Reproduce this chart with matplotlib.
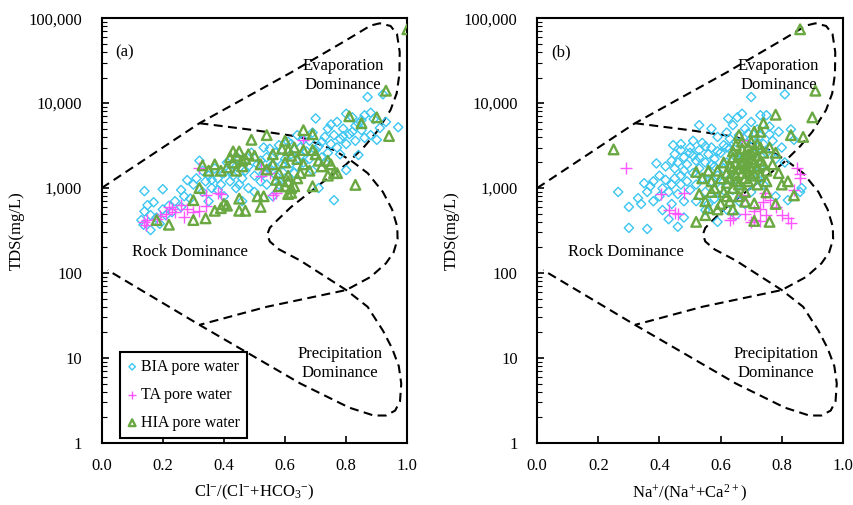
import matplotlib
matplotlib.use("Agg")
import matplotlib.pyplot as plt
from matplotlib.ticker import FixedLocator, FuncFormatter, LogLocator, NullFormatter

plt.rcParams['font.family'] = ['Liberation Serif', 'DejaVu Serif']
plt.rcParams['mathtext.fontset'] = 'custom'
plt.rcParams['mathtext.rm'] = 'Liberation Serif'
plt.rcParams['mathtext.default'] = 'regular'

# Gibbs boundary lines (x ratio, TDS mg/L)
outer_line = [(0.0, 1000), (0.32, 5800), (0.62, 23000), (0.80, 55000), (0.88, 82000),
              (0.91, 87000), (0.945, 81000), (0.966, 65000), (0.975, 40000), (0.974, 22000),
              (0.965, 13000), (0.945, 8300), (0.90, 4600), (0.86, 3100), (0.80, 1900),
              (0.72, 1150), (0.62, 600), (0.575, 420), (0.55, 340), (0.542, 285),
              (0.55, 235), (0.58, 190), (0.65, 140), (0.80, 63), (0.87, 40), (0.92, 21),
              (0.95, 13), (0.972, 8), (0.98, 5), (0.976, 3.1), (0.96, 2.4), (0.93, 2.1),
              (0.89, 2.1), (0.81, 2.6), (0.65, 5), (0.32, 24.5), (0.02, 108)]
inner_line = [(0.32, 5800), (0.50, 4800), (0.65, 4000), (0.76, 2800), (0.82, 2050),
              (0.87, 1500), (0.92, 900), (0.95, 560), (0.967, 350), (0.968, 250),
              (0.955, 175), (0.93, 130), (0.88, 90), (0.80, 63), (0.54, 40), (0.32, 24.5)]

# panel (a): Cl/(Cl+HCO3)
bia_a = [(0.14, 920), (0.20, 970), (0.15, 630), (0.17, 680), (0.14, 530), (0.137, 370),
         (0.16, 320), (0.13, 420), (0.18, 450), (0.20, 560), (0.22, 620), (0.24, 700),
         (0.21, 480), (0.16, 480), (0.19, 380), (0.23, 520), (0.26, 950), (0.28, 1240),
         (0.27, 800), (0.26, 600), (0.29, 750), (0.30, 1100), (0.32, 2100), (0.31, 1300),
         (0.33, 900), (0.35, 1400), (0.34, 1200), (0.36, 1000), (0.38, 1300), (0.37, 1700),
         (0.40, 1500), (0.39, 1100), (0.42, 1200), (0.41, 2000), (0.44, 1800), (0.43, 1400),
         (0.46, 1300), (0.45, 2200), (0.47, 1600), (0.48, 1000), (0.50, 1400), (0.49, 2600),
         (0.51, 1900), (0.52, 1200), (0.53, 3000), (0.54, 2300), (0.55, 1700), (0.56, 800),
         (0.57, 2600), (0.58, 3200), (0.59, 1900), (0.60, 1300), (0.61, 3500), (0.62, 2500),
         (0.63, 1500), (0.64, 4200), (0.65, 3000), (0.66, 2000), (0.67, 2700), (0.68, 3600),
         (0.69, 4500), (0.70, 6600), (0.71, 1000), (0.71, 3100), (0.72, 2300), (0.73, 4000),
         (0.74, 5000), (0.75, 3300), (0.76, 720), (0.76, 4200), (0.77, 6000), (0.78, 3800),
         (0.79, 5000), (0.80, 1630), (0.80, 7500), (0.81, 4300), (0.82, 6800), (0.83, 3600),
         (0.84, 2450), (0.84, 5800), (0.85, 4800), (0.86, 7200), (0.87, 11800), (0.88, 4200),
         (0.89, 6500), (0.90, 3700), (0.92, 12700), (0.93, 6000), (0.97, 5200), (0.55, 2900),
         (0.50, 900), (0.46, 700), (0.44, 1000), (0.40, 800), (0.38, 950), (0.35, 700),
         (0.33, 1600), (0.36, 1250), (0.42, 1600), (0.45, 1100), (0.48, 1800), (0.52, 2100),
         (0.53, 1500), (0.56, 1900), (0.58, 1100), (0.60, 2200), (0.62, 3300), (0.64, 1800),
         (0.66, 3700), (0.68, 2200), (0.70, 2800), (0.72, 3500), (0.74, 2600), (0.75, 5600),
         (0.78, 2500), (0.80, 3300), (0.82, 4600), (0.86, 3900), (0.88, 7700), (0.91, 5100),
         (0.54, 1100), (0.57, 1400), (0.61, 1700), (0.65, 2400), (0.69, 1600), (0.73, 2000),
         (0.77, 3000), (0.79, 4100), (0.83, 5400), (0.85, 6300)]
ta_a = [(0.137, 400), (0.15, 420), (0.145, 370), (0.19, 470), (0.21, 500), (0.23, 560),
        (0.24, 520), (0.26, 640), (0.27, 460), (0.32, 540), (0.34, 620), (0.34, 830),
        (0.38, 880), (0.39, 840), (0.32, 1700), (0.55, 1500), (0.57, 870), (0.56, 830),
        (0.66, 3700), (0.52, 1700), (0.52, 1400), (0.22, 600), (0.28, 560), (0.30, 520),
        (0.18, 430)]
hia_a = [(1.0, 74000), (0.93, 14000), (0.81, 7000), (0.85, 5800), (0.90, 6800),
         (0.94, 4100), (0.83, 1090), (0.66, 4800), (0.69, 4300), (0.54, 4200), (0.49, 3700),
         (0.18, 420), (0.22, 370), (0.30, 420), (0.34, 440), (0.30, 720), (0.32, 1000),
         (0.37, 540), (0.39, 580), (0.41, 620), (0.45, 540), (0.47, 540), (0.45, 750),
         (0.51, 800), (0.53, 800), (0.52, 600), (0.58, 1050), (0.61, 850), (0.62, 880),
         (0.69, 1050), (0.74, 1400), (0.77, 1500), (0.75, 1900), (0.72, 1800), (0.63, 1050),
         (0.64, 1300), (0.65, 1500), (0.33, 1850), (0.37, 1900), (0.35, 1600), (0.39, 1600),
         (0.41, 1750), (0.43, 2000), (0.42, 2300), (0.44, 2400), (0.45, 2700), (0.43, 2700),
         (0.46, 2100), (0.48, 2500), (0.50, 2400), (0.52, 1900), (0.54, 1650), (0.56, 1900),
         (0.59, 2900), (0.61, 2800), (0.62, 2400), (0.60, 2000), (0.63, 3000), (0.66, 2800),
         (0.69, 2800), (0.70, 2500), (0.71, 2100), (0.74, 2100), (0.76, 1500), (0.61, 1200),
         (0.60, 1050), (0.61, 1400), (0.62, 1000), (0.40, 650), (0.44, 1600), (0.46, 1800),
         (0.47, 2200), (0.58, 1500), (0.57, 1250), (0.56, 2500), (0.66, 1900), (0.68, 1600),
         (0.60, 3600), (0.64, 2200)]

# panel (b): Na/(Na+Ca)
bia_b = [(0.265, 900), (0.30, 600), (0.30, 340), (0.36, 330), (0.33, 760), (0.35, 1140),
         (0.37, 1050), (0.39, 1950), (0.41, 990), (0.42, 1250), (0.445, 3200), (0.45, 2500),
         (0.45, 1700), (0.47, 1400), (0.48, 2300), (0.50, 3000), (0.53, 5500), (0.57, 5000),
         (0.625, 6600), (0.655, 6800), (0.67, 7500), (0.70, 11800), (0.81, 12700),
         (0.73, 7200), (0.75, 7200), (0.76, 4300), (0.83, 4900), (0.82, 720), (0.865, 1000),
         (0.46, 350), (0.43, 430), (0.52, 700), (0.59, 400), (0.65, 480), (0.68, 650),
         (0.34, 650), (0.36, 900), (0.38, 700), (0.38, 1200), (0.40, 1400), (0.40, 800),
         (0.41, 550), (0.42, 1800), (0.43, 900), (0.44, 1100), (0.44, 650), (0.45, 1300),
         (0.46, 2000), (0.46, 850), (0.47, 1100), (0.47, 3300), (0.48, 1600), (0.48, 700),
         (0.49, 1900), (0.49, 1200), (0.50, 2600), (0.50, 950), (0.51, 1500), (0.51, 3600),
         (0.52, 2100), (0.52, 1100), (0.53, 1700), (0.53, 2800), (0.54, 1300), (0.54, 3400),
         (0.55, 2000), (0.55, 900), (0.56, 2500), (0.56, 1500), (0.57, 1200), (0.57, 3000),
         (0.58, 1800), (0.58, 2200), (0.58, 750), (0.59, 4000), (0.59, 1400), (0.60, 2600),
         (0.60, 1000), (0.61, 3200), (0.61, 1700), (0.62, 2000), (0.62, 4500), (0.63, 1300),
         (0.63, 2900), (0.64, 5500), (0.64, 1600), (0.65, 3500), (0.65, 2300), (0.66, 4200),
         (0.66, 1100), (0.67, 2700), (0.68, 5000), (0.68, 3300), (0.69, 4400), (0.70, 3800),
         (0.70, 6000), (0.71, 2500), (0.72, 4900), (0.72, 3000), (0.73, 4100), (0.74, 3300),
         (0.75, 2600), (0.76, 5300), (0.77, 3600), (0.78, 2200), (0.79, 4600), (0.80, 3000),
         (0.81, 2000), (0.84, 3700), (0.55, 550), (0.62, 560), (0.66, 700), (0.70, 900),
         (0.72, 1300), (0.74, 1100), (0.78, 800), (0.86, 900), (0.48, 450), (0.56, 650),
         (0.60, 800), (0.64, 950), (0.67, 1800), (0.69, 1500), (0.71, 1200), (0.73, 1700),
         (0.53, 2300), (0.57, 1900), (0.61, 1200), (0.63, 3800), (0.66, 2100), (0.68, 2400),
         (0.44, 2100), (0.47, 2800), (0.51, 2400), (0.55, 3100), (0.59, 2700), (0.62, 3000)]
ta_b = [(0.29, 1700), (0.405, 850), (0.48, 870), (0.43, 550), (0.45, 510), (0.46, 490),
        (0.85, 1700), (0.86, 1450), (0.84, 950), (0.82, 450), (0.83, 390), (0.745, 880),
        (0.76, 720), (0.73, 570), (0.71, 540), (0.71, 420), (0.70, 400), (0.73, 410),
        (0.75, 480), (0.67, 720), (0.67, 830), (0.63, 420), (0.68, 490), (0.67, 3700),
        (0.80, 480), (0.78, 600), (0.74, 680), (0.64, 440), (0.86, 1300)]
hia_b = [(0.86, 74000), (0.91, 14000), (0.90, 6800), (0.87, 4000), (0.83, 4200),
         (0.78, 7300), (0.74, 5800), (0.71, 4600), (0.66, 4200), (0.25, 2850), (0.52, 400),
         (0.84, 820), (0.82, 1200), (0.79, 1500), (0.78, 2600), (0.75, 890), (0.78, 650),
         (0.76, 400), (0.71, 410), (0.71, 660), (0.68, 690), (0.64, 560), (0.59, 560),
         (0.56, 580), (0.55, 480), (0.55, 700), (0.53, 850), (0.52, 1550), (0.56, 1600),
         (0.59, 1600), (0.57, 1200), (0.62, 1150), (0.64, 2300), (0.69, 1600), (0.75, 1600),
         (0.73, 3000), (0.69, 3000), (0.67, 2900), (0.70, 2600), (0.73, 4600),
         (0.62, 1500), (0.63, 1800), (0.63, 1300), (0.64, 1000), (0.64, 1700), (0.65, 1400),
         (0.65, 2000), (0.65, 1200), (0.66, 2500), (0.66, 1700), (0.66, 1100), (0.67, 2100),
         (0.67, 1500), (0.67, 1900), (0.68, 2300), (0.68, 1300), (0.68, 1800), (0.69, 2000),
         (0.69, 2500), (0.69, 1200), (0.70, 1700), (0.70, 2200), (0.70, 1400), (0.71, 2000),
         (0.71, 2800), (0.71, 1500), (0.72, 2400), (0.72, 1800), (0.72, 3300), (0.73, 2100),
         (0.73, 1400), (0.74, 2600), (0.74, 1900), (0.60, 1300), (0.61, 900), (0.62, 800),
         (0.58, 1000), (0.61, 2000), (0.65, 3200), (0.67, 3500), (0.70, 3500), (0.68, 900),
         (0.66, 800), (0.72, 1100), (0.75, 1200), (0.77, 1900), (0.80, 1100), (0.57, 900),
         (0.60, 650), (0.63, 700), (0.54, 1300), (0.76, 3000), (0.64, 2700)]

panels = [
    ('(a)', 'Cl$^{-}$/(Cl$^{-}$+HCO$_3$$^{-}$)', bia_a, ta_a, hia_a),
    ('(b)', 'Na$^{+}$/(Na$^{+}$+Ca$^{2+}$)', bia_b, ta_b, hia_b),
]
positions = [[0.119, 0.123, 0.358, 0.841], [0.629, 0.123, 0.358, 0.841]]

blue = '#3cc6f2'
pink = '#ff55ff'
green = '#6aa842'

fig = plt.figure(figsize=(8.54, 5.05), dpi=100)

for (tag, xlabel, bia, ta, hia), pos in zip(panels, positions):
    ax = fig.add_axes(pos)
    ax.set_yscale('log')
    ax.set_xlim(0, 1)
    ax.set_ylim(1, 100000)

    for line in (outer_line, inner_line):
        lx, ly = zip(*line)
        ax.plot(lx, ly, color='black', lw=1.5, linestyle=(0, (4.3, 2.6)), zorder=1)

    bx, by = zip(*bia)
    ax.scatter(bx, by, marker='D', s=22, facecolors='none', edgecolors=blue,
               linewidths=1.0, label='BIA pore water', zorder=2)
    tx, ty = zip(*ta)
    ax.scatter(tx, ty, marker='+', s=80, color=pink, linewidths=1.0,
               label='TA pore water', zorder=3)
    hx, hy = zip(*hia)
    ax.scatter(hx, hy, marker='^', s=48, facecolors='none', edgecolors=green,
               linewidths=1.7, label='HIA pore water', zorder=3)

    ax.text(0.045, 40000, tag, fontsize=12, va='center', ha='left')
    ax.text(0.79, 21000, 'Evaporation\nDominance', fontsize=12, ha='center',
            va='center', linespacing=1.25)
    ax.text(0.29, 175, 'Rock Dominance', fontsize=12, ha='center', va='center')
    ax.text(0.78, 8.5, 'Precipitation\nDominance', fontsize=12, ha='center',
            va='center', linespacing=1.25)

    ax.set_xticks([0.0, 0.2, 0.4, 0.6, 0.8, 1.0])
    ax.set_xticklabels(['0.0', '0.2', '0.4', '0.6', '0.8', '1.0'])
    ax.yaxis.set_major_locator(FixedLocator([1, 10, 100, 1000, 10000, 100000]))
    ax.yaxis.set_major_formatter(FuncFormatter(lambda v, p: f'{int(round(v)):,}'))
    ax.yaxis.set_minor_locator(LogLocator(base=10, subs=range(2, 10)))
    ax.yaxis.set_minor_formatter(NullFormatter())
    ax.tick_params(axis='both', which='major', direction='in', length=5, width=1.2,
                   labelsize=12)
    ax.tick_params(axis='y', which='major', pad=14)
    ax.tick_params(axis='x', which='major', pad=11)
    ax.tick_params(axis='y', which='minor', direction='in', length=3.5, width=0.8)
    for sp in ax.spines.values():
        sp.set_linewidth(1.5)
    ax.set_ylabel('TDS(mg/L)', fontsize=12, labelpad=3)
    ax.set_xlabel(xlabel, fontsize=12, labelpad=6)

    if tag == '(a)':
        leg = ax.legend(loc='lower left', bbox_to_anchor=(0.045, 0.0), fontsize=11.5,
                        frameon=True, fancybox=False, edgecolor='black', framealpha=1,
                        handlelength=0.6, handletextpad=0.25, labelspacing=0.75,
                        borderpad=0.45, borderaxespad=0.3, markerscale=0.7)
        leg.get_frame().set_linewidth(1.5)

fig.savefig('out.png', dpi=100)
